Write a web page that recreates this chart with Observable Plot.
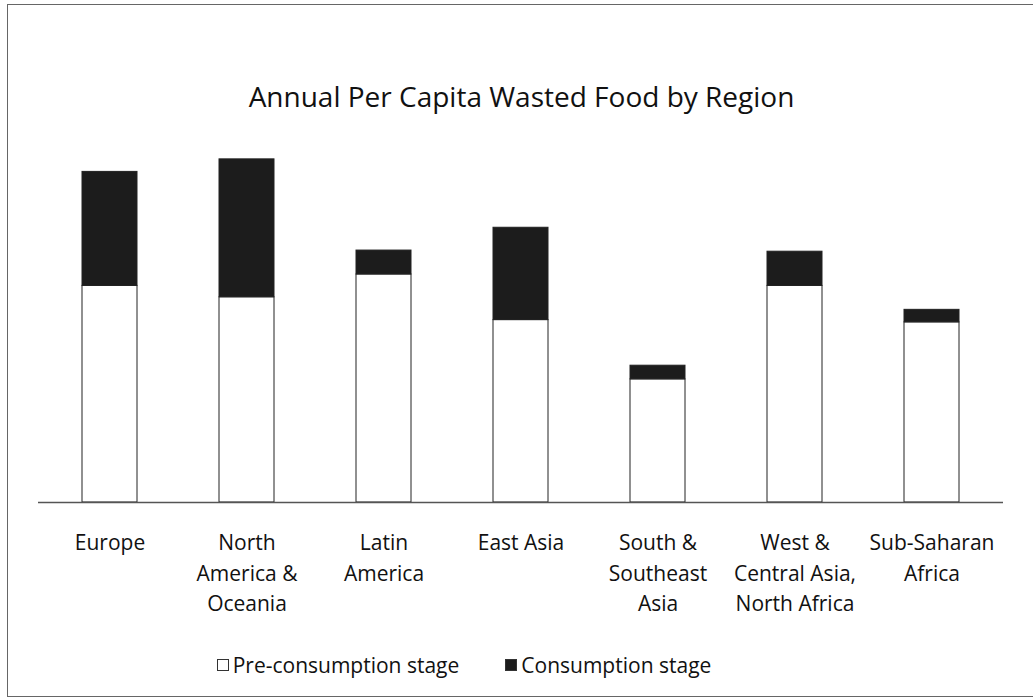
<!DOCTYPE html>
<html>
<head>
<meta charset="utf-8">
<script src="https://cdn.jsdelivr.net/npm/d3@7"></script>
<script src="https://cdn.jsdelivr.net/npm/@observablehq/plot@0.6"></script>
<style>
  html, body { margin: 0; padding: 0; background: #fff; width: 1033px; height: 699px; overflow: hidden; }
  body { position: relative; font-family: "Open Sans", sans-serif; color: #111; }
  #frame { position: absolute; left: 7px; top: 4px; width: 1040px; height: 693px; border: 1.5px solid #666; box-sizing: border-box; }
  #title { position: absolute; left: 0; width: 1043px; top: 76px; text-align: center; font-size: 28px; line-height: 40px; }
  #chart { position: absolute; left: 0; top: 120px; }
  #legend { position: absolute; left: 0; width: 928px; top: 648px; text-align: center; font-size: 21px; line-height: 30px; white-space: nowrap; }
  .item { display: inline-flex; align-items: center; margin: 0 23px; }
  .sw { display: inline-block; width: 10px; height: 10px; border: 1px solid #333; margin-right: 4px; }
</style>
</head>
<body>
<div id="frame"></div>
<div id="title">Annual Per Capita Wasted Food by Region</div>
<div id="chart"></div>
<div id="legend"></div>
<script>
const regions = ["Europe", "North America & Oceania", "Latin America", "East Asia", "South & Southeast Asia", "West & Central Asia, North Africa", "Sub-Saharan Africa"];
const tickLabels = ["Europe", "North\nAmerica &\nOceania", "Latin\nAmerica", "East Asia", "South &\nSoutheast\nAsia", "West &\nCentral Asia,\nNorth Africa", "Sub-Saharan\nAfrica"];
const series = ["Pre-consumption stage", "Consumption stage"];
const preConsumption = [190, 180, 200, 160, 108, 190, 158];
const consumption = [100, 121, 21, 81, 12, 30, 11];
const colors = ["#ffffff", "#1c1c1c"];

const data = [];
regions.forEach((r, i) => {
  data.push({region: r, stage: series[0], value: preConsumption[i]});
  data.push({region: r, stage: series[1], value: consumption[i]});
});
const labelOf = new Map(regions.map((r, i) => [r, tickLabels[i]]));

const chart = Plot.plot({
  width: 1033,
  height: 520,
  marginLeft: 38,
  marginRight: 30,
  marginTop: 20,
  marginBottom: 138,
  style: {fontFamily: "Open Sans, sans-serif", color: "#111", background: "transparent"},
  x: {domain: regions, paddingInner: 0.6, paddingOuter: 0.3, label: null},
  y: {domain: [0, 300], range: [382, 40], axis: null},
  color: {domain: series, range: colors},
  marks: [
    Plot.barY(data, {x: "region", y: "value", fill: "stage", stroke: "#222", strokeWidth: 1, order: series}),
    Plot.ruleY([0], {stroke: "#555", strokeWidth: 1.5}),
    Plot.axisX({tickSize: 0, tickPadding: 26, fontSize: 21, lineHeight: 1.45, tickFormat: d => labelOf.get(d), label: null, fill: "#111"})
  ]
});
document.getElementById("chart").appendChild(chart);

const legend = document.getElementById("legend");
series.forEach((s, i) => {
  const it = document.createElement("span");
  it.className = "item";
  const sw = document.createElement("span");
  sw.className = "sw";
  sw.style.background = colors[i];
  it.appendChild(sw);
  it.appendChild(document.createTextNode(s));
  legend.appendChild(it);
});
</script>
</body>
</html>
